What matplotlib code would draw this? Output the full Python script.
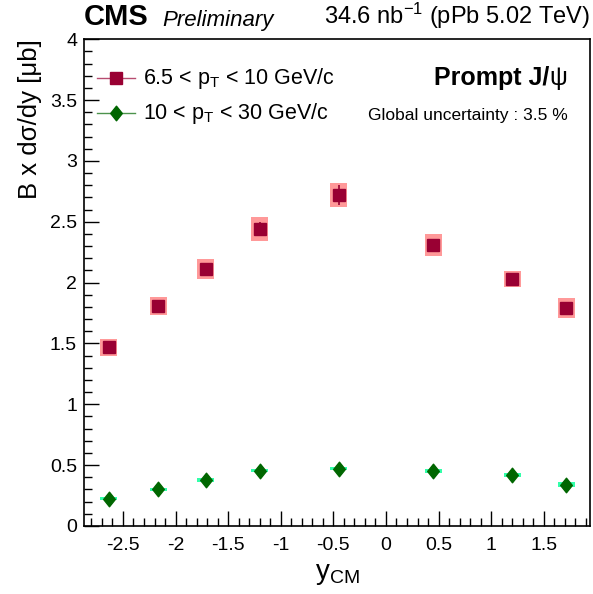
import numpy as np
import matplotlib.pyplot as plt
plt.switch_backend('agg')
from matplotlib.patches import Rectangle
from matplotlib.path import Path
from matplotlib.ticker import MultipleLocator

plt.rcParams['font.family'] = ['Liberation Sans', 'DejaVu Sans']
plt.rcParams['mathtext.fontset'] = 'custom'
plt.rcParams['mathtext.rm'] = 'Liberation Sans'
plt.rcParams['mathtext.it'] = 'Liberation Sans:italic'
plt.rcParams['mathtext.bf'] = 'Liberation Sans:bold'

# rapidity bin centres (y_CM)
y_cm = [-2.635, -2.165, -1.715, -1.2, -0.45, 0.45, 1.2, 1.715]

# 6.5 < pT < 10 GeV/c
low_val = [1.47, 1.81, 2.11, 2.44, 2.72, 2.31, 2.03, 1.79]
low_stat = [0.03, 0.02, 0.04, 0.06, 0.08, 0.025, 0.01, 0.03]
low_sys = [0.07, 0.075, 0.08, 0.10, 0.10, 0.09, 0.065, 0.08]

# 10 < pT < 30 GeV/c
high_val = [0.225, 0.30, 0.375, 0.455, 0.472, 0.455, 0.42, 0.34]
high_stat = [0.01, 0.01, 0.01, 0.01, 0.01, 0.01, 0.01, 0.01]
high_sys = [0.012, 0.014, 0.016, 0.015, 0.016, 0.016, 0.015, 0.018]

box_hw = 0.08

# ROOT style diamond, a bit taller than wide
diamond = Path([(0, 1), (0.8, 0), (0, -1), (-0.8, 0), (0, 1)],
               [Path.MOVETO, Path.LINETO, Path.LINETO, Path.LINETO, Path.CLOSEPOLY])

fig = plt.figure(figsize=(5.93, 5.94), dpi=100)
ax = fig.add_axes([0.1417, 0.1145, 0.8533, 0.8195])

for x, v, s in zip(y_cm, low_val, low_sys):
    ax.add_patch(Rectangle((x - box_hw, v - s), 2 * box_hw, 2 * s,
                           facecolor='#ff9999', edgecolor='none', zorder=1))
for x, v, s in zip(y_cm, high_val, high_sys):
    ax.add_patch(Rectangle((x - box_hw, v - s), 2 * box_hw, 2 * s,
                           facecolor='#33ffaa', edgecolor='none', zorder=1))

ax.errorbar(y_cm, low_val, yerr=low_stat, fmt='s', color='#990033',
            markersize=8, elinewidth=1.2, capsize=0, zorder=3)
ax.errorbar(y_cm, high_val, yerr=high_stat, fmt='none', ecolor='#006600',
            elinewidth=1.2, capsize=0, zorder=3)
ax.plot(y_cm, high_val, linestyle='none', marker=diamond, color='#006600',
        markersize=10.5, zorder=3)

ax.set_xlim(-2.87, 1.94)
ax.set_ylim(0, 4)
ax.xaxis.set_minor_locator(MultipleLocator(0.1))
ax.yaxis.set_minor_locator(MultipleLocator(0.1))
ax.tick_params(which='both', direction='in', top=False, right=False, labelsize=14)
ax.tick_params(which='major', length=11, width=1)
ax.tick_params(which='minor', length=5.5, width=1)
ax.tick_params(axis='x', pad=8)
ax.tick_params(axis='y', pad=5)
ax.set_xticks(np.arange(-2.5, 2.0, 0.5))
ax.set_xticklabels(['-2.5', '-2', '-1.5', '-1', '-0.5', '0', '0.5', '1', '1.5'])
ax.set_yticks(np.arange(0, 4.01, 0.5))
ax.set_yticklabels(['0', '0.5', '1', '1.5', '2', '2.5', '3', '3.5', '4'])
for sp in ax.spines.values():
    sp.set_linewidth(1.2)

ax.set_xlabel(r'y$_{\mathrm{CM}}$', fontsize=20, loc='center', labelpad=5)
ax.set_ylabel(u'B x d\u03c3/dy [\u03bcb]', fontsize=18.5, loc='top', labelpad=6)

# legend drawn by hand
leg = [('#990033', 's', 8, r'6.5 < p$_{\mathrm{T}}$ < 10 GeV/c', 0.920),
       ('#006600', diamond, 10.5, r'10 < p$_{\mathrm{T}}$ < 30 GeV/c', 0.848)]
for col, mk, ms, lab, yy in leg:
    ax.plot([0.026, 0.101], [yy, yy], transform=ax.transAxes, color=col,
            lw=1.0, alpha=0.7, clip_on=False)
    ax.plot([0.0635], [yy], transform=ax.transAxes, marker=mk, color=col,
            markersize=ms, linestyle='none')
    ax.text(0.116, yy, lab, transform=ax.transAxes, fontsize=15.5, va='center')

psi = ax.text(0.955, 0.906, u'\u03c8', transform=ax.transAxes,
              fontsize=18, ha='right', va='baseline')
ax.annotate('Prompt J/', xy=(0, 0), xycoords=psi, fontsize=18,
            fontweight='bold', ha='right', va='bottom')
ax.text(0.955, 0.843, 'Global uncertainty : 3.5 %', transform=ax.transAxes,
        fontsize=12.5, ha='right', va='center')

fig.text(0.142, 0.948, 'CMS', fontsize=21, fontweight='bold', ha='left', va='bottom')
fig.text(0.273, 0.948, 'Preliminary', fontsize=16, style='italic', ha='left', va='bottom')
fig.text(0.995, 0.948, r'34.6 nb$^{-1}$ (pPb 5.02 TeV)', fontsize=17, ha='right', va='bottom')

fig.savefig('out.png', dpi=100)
